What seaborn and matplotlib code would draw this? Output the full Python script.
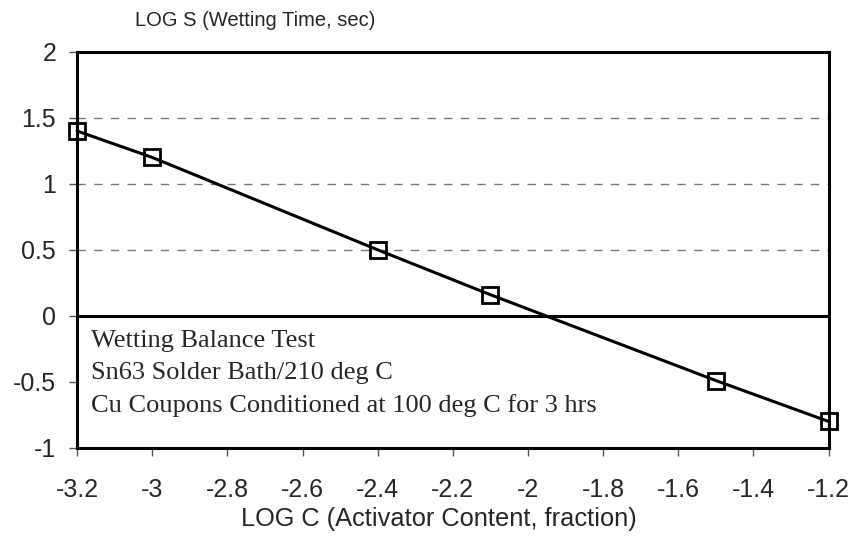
import matplotlib
matplotlib.use("Agg")
import matplotlib.pyplot as plt
import seaborn as sns
import pandas as pd

log_c = [-3.2, -3.0, -2.4, -2.1, -1.5, -1.2]
log_s = [1.4, 1.2, 0.5, 0.16, -0.49, -0.8]
x_ticks = [-3.2, -3.0, -2.8, -2.6, -2.4, -2.2, -2.0, -1.8, -1.6, -1.4, -1.2]
x_tick_labels = ["-3.2", "-3", "-2.8", "-2.6", "-2.4", "-2.2", "-2", "-1.8", "-1.6", "-1.4", "-1.2"]
y_ticks = [-1, -0.5, 0, 0.5, 1, 1.5, 2]
y_tick_labels = ["-1", "-0.5", "0", "0.5", "1", "1.5", "2"]
grid_levels = [0.5, 1.0, 1.5]
notes = ["Wetting Balance Test", "Sn63 Solder Bath/210 deg C",
         "Cu Coupons Conditioned at 100 deg C for 3 hrs"]

df = pd.DataFrame({"logC": log_c, "logS": log_s})

sns.set_theme(style="white")
plt.rcParams['font.family'] = ['Liberation Sans', 'DejaVu Sans']

fig = plt.figure(figsize=(8.56, 5.39), dpi=100)
ax = fig.add_axes([0.090, 0.169, 0.878, 0.735])

for g in grid_levels:
    ax.axhline(g, color="#777777", lw=1.0, ls=(0, (6, 6)), zorder=1)
ax.axhline(0, color="black", lw=2.2, zorder=2)

sns.lineplot(data=df, x="logC", y="logS", ax=ax, color="black", lw=2.2,
             marker="s", markersize=11, markerfacecolor="none",
             markeredgecolor="black", markeredgewidth=2.0, zorder=3,
             clip_on=False)

ax.set_xlim(-3.2, -1.2)
ax.set_ylim(-1, 2)
ax.set_xticks(x_ticks)
ax.set_xticklabels(x_tick_labels, fontsize=18)
ax.set_yticks(y_ticks)
ax.set_yticklabels(y_tick_labels, fontsize=18)
ax.tick_params(axis="both", direction="out", length=6, width=1, color="#555555",
               bottom=True, left=True)
ax.tick_params(axis="x", pad=16)
ax.tick_params(axis="y", pad=9)
ax.set_xlabel("LOG C (Activator Content, fraction)", fontsize=18.3)
ax.xaxis.set_label_coords(0.482, -0.150)
ax.set_ylabel("")
for s in ax.spines.values():
    s.set_color("black")
    s.set_linewidth(2.2)

fig.text(0.158, 0.962, "LOG S (Wetting Time, sec)", fontsize=14.5, ha="left", va="center")

note_y = [0.27, 0.189, 0.108]
for t, yy in zip(notes, note_y):
    ax.text(0.018, yy, t, transform=ax.transAxes, fontsize=19,
            family=["Liberation Serif", "DejaVu Serif"], ha="left", va="center")

fig.savefig("out.png", dpi=100)
